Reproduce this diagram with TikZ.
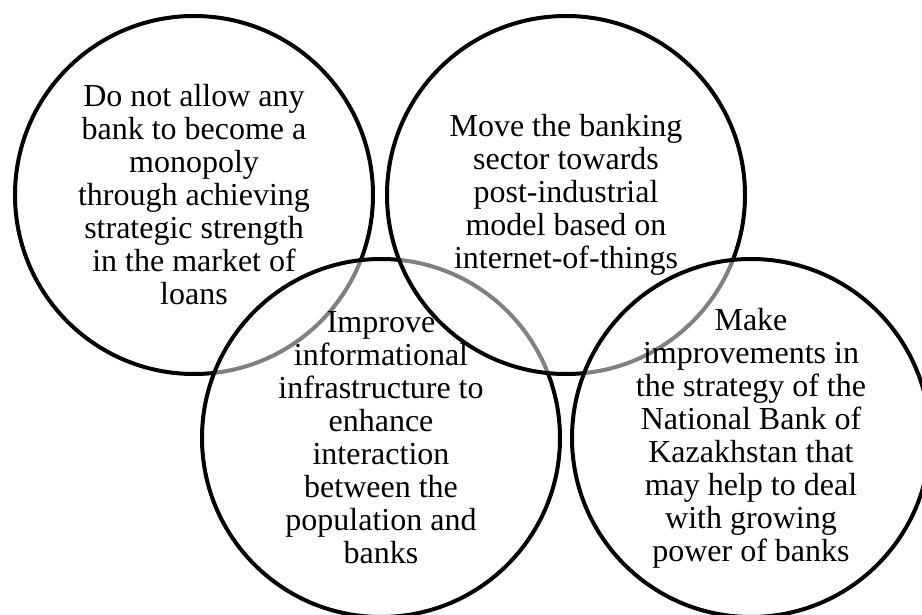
\documentclass[tikz,border=0pt]{standalone}
\usepackage{fontspec}
\setmainfont{Liberation Serif}
\begin{document}
\begin{tikzpicture}[x=1pt,y=-1pt,
  bubble/.style={circle,draw=black,line width=4pt,fill=white,fill opacity=0.5,text opacity=1,
    minimum size=358pt,inner sep=0pt,align=center,
    font=\fontsize{32}{33}\selectfont}]
\useasboundingbox (0,0) rectangle (922,615);
\clip (0,0) rectangle (922,615);
\node[bubble] (c1) at (194,195) {Do not allow any\\bank to become a\\monopoly\\through achieving\\strategic strength\\in the market of\\loans};
\node[bubble] (c3) at (381,438) {Improve\\informational\\infrastructure to\\enhance\\interaction\\between the\\population and\\banks};
\node[bubble] (c2) at (566,195) {Move the banking\\sector towards\\post-industrial\\model based on\\internet-of-things};
\node[bubble] (c4) at (751,438) {Make\\improvements in\\the strategy of the\\National Bank of\\Kazakhstan that\\may help to deal\\with growing\\power of banks};
\end{tikzpicture}
\end{document}
